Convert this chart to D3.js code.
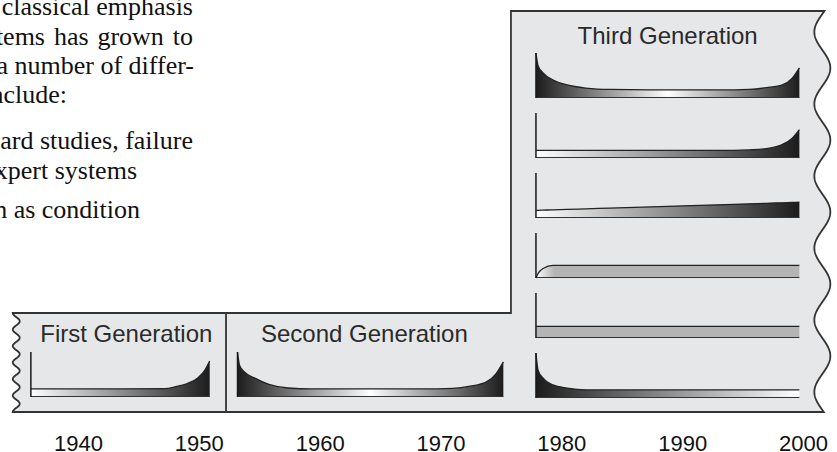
<!DOCTYPE html>
<html><head><meta charset="utf-8">
<script src="https://cdn.jsdelivr.net/npm/d3@7"></script>
<style>
html,body{margin:0;padding:0;background:#fff;}
svg{display:block;}
</style></head><body>
<svg id="chart" width="837" height="452"></svg>
<script>
// ---------- data ----------
const tickYears = [1940, 1950, 1960, 1970, 1980, 1990, 2000];
const genNames = ["First Generation", "Second Generation", "Third Generation"];
const genStart = [1934.6, 1952.25, 1975.83];
const genEnd = [1952.25, 1975.83, 2001.6];
const genLabelYear = [1944.0, 1963.7, 1988.8];
const curveStart = [1936.1, 1953.2, 1977.9];
const curveEnd = [1950.9, 1975.2, 1999.7];

// normalised age points along each failure-pattern curve
const ages = [0, 0.008, 0.027, 0.065, 0.118, 0.19, 0.28, 0.5, 0.75, 0.81, 0.875, 0.935, 0.973, 1];
// conditional probability of failure (relative) at each age point
const firstGenRates  = [0.18, 0.18, 0.18, 0.18, 0.18, 0.18, 0.18, 0.18, 0.185, 0.23, 0.30, 0.43, 0.60, 0.80];
const secondGenRates = [1.00, 0.70, 0.55, 0.42, 0.28, 0.20, 0.18, 0.18, 0.18, 0.19, 0.24, 0.33, 0.52, 0.78];
const thirdGenPatterns = ["A", "B", "C", "D", "E", "F"];
const rateA = [1.00, 0.72, 0.56, 0.40, 0.29, 0.22, 0.19, 0.18, 0.18, 0.19, 0.23, 0.29, 0.44, 0.67];
const rateB = [0.17, 0.17, 0.17, 0.17, 0.17, 0.17, 0.17, 0.17, 0.17, 0.18, 0.21, 0.30, 0.44, 0.63];
const rateC = [0.17, 0.171, 0.175, 0.182, 0.191, 0.204, 0.22, 0.26, 0.305, 0.316, 0.327, 0.338, 0.345, 0.35];
const rateD = [0.00, 0.10, 0.21, 0.28, 0.28, 0.28, 0.28, 0.28, 0.28, 0.28, 0.28, 0.28, 0.28, 0.28];
const rateE = [0.26, 0.26, 0.26, 0.26, 0.26, 0.26, 0.26, 0.26, 0.26, 0.26, 0.26, 0.26, 0.26, 0.26];
const rateF = [1.00, 0.62, 0.44, 0.29, 0.22, 0.18, 0.18, 0.18, 0.18, 0.18, 0.18, 0.18, 0.18, 0.18];
const thirdGenRates = [rateA, rateB, rateC, rateD, rateE, rateF];

const introLines = ["classical emphasis", "tems has grown to", "a number of differ-", "nclude:",
                    "ard studies, failure", "xpert systems", "n as condition"];

// ---------- layout ----------
const svg = d3.select("#chart");
const x = d3.scaleLinear().domain([1940, 2000]).range([78, 803]);
const topLow = 313, topHigh = 11, bottom = 412;
const panelH = 45;
const rowScale = d3.scaleBand().domain(thirdGenPatterns).range([38, 398]);

// gradients
const defs = svg.append("defs");
const dark = "#1c1c1c", bar = "#b4b4b4";
const gradStops = {
  bathtub: [[0, dark], [0.5, "#ffffff"], [1, dark]],
  wearout: [[0, "#ffffff"], [1, dark]],
  infant:  [[0, dark], [1, "#ffffff"]],
  rising:  [[0, "#ffffff"], [0.07, bar], [1, bar]],
  flat:    [[0, bar], [1, bar]]
};
Object.entries(gradStops).forEach(([id, stops]) => {
  const g = defs.append("linearGradient").attr("id", "g-" + id)
    .attr("x1", 0).attr("x2", 1).attr("y1", 0).attr("y2", 0);
  stops.forEach(s => g.append("stop").attr("offset", s[0]).attr("stop-color", s[1]));
});
const thirdGrad = ["bathtub", "wearout", "wearout", "rising", "flat", "infant"];

// ---------- intro text (page text behind the figure) ----------
const introEnds = [193, 193, 194, 67, 193, 137, 140];
const introBase = [15, 44.5, 74, 103, 149, 179, 218];
const introWordSpace = [0, 2.4, 0, 0, 0, 0, 0];
svg.append("g").selectAll("text").data(introLines).join("text")
  .attr("x", (d, i) => introEnds[i]).attr("y", (d, i) => introBase[i])
  .attr("text-anchor", "end")
  .style("font-family", "'Liberation Serif','Times New Roman',serif")
  .style("font-size", "26px").style("fill", "#111")
  .style("word-spacing", (d, i) => introWordSpace[i] + "px")
  .text(d => d);

// ---------- box outline ----------
const xL = x(genStart[0]), xR = x(genEnd[2]);
const leftWave = y => xL + 3.5 - 3.5 * Math.cos(2 * Math.PI * (y - topLow) / 16.5);
const rightWave = y => xR - 8 * Math.cos(2 * Math.PI * (y - 32) / 72);
const pts = [];
pts.push([leftWave(topLow), topLow]);
pts.push([x(genStart[2]), topLow]);
pts.push([x(genStart[2]), topHigh]);
for (let y = topHigh; y <= bottom; y += 1) pts.push([rightWave(y), y]);
for (let y = bottom; y >= topLow; y -= 1) pts.push([leftWave(y), y]);
svg.append("path").attr("d", d3.line()(pts) + "Z")
  .attr("fill", "#e6e7e8").attr("stroke", "#333").attr("stroke-width", 1.8)
  .attr("stroke-linejoin", "miter");
svg.append("line")
  .attr("x1", x(genStart[1])).attr("x2", x(genStart[1]))
  .attr("y1", topLow).attr("y2", bottom)
  .attr("stroke", "#333").attr("stroke-width", 1.8);

// ---------- generation titles ----------
svg.append("g").selectAll("text").data(genNames).join("text")
  .attr("x", (d, i) => x(genLabelYear[i]))
  .attr("y", (d, i) => i < 2 ? 342 : 44)
  .attr("text-anchor", "middle")
  .style("font-family", "'Liberation Sans',Arial,Helvetica,sans-serif")
  .style("font-size", "24px").style("fill", "#2a2a2a")
  .text(d => d);

// ---------- failure pattern panels ----------
function drawPanel(y0, yrStart, yrEnd, rates, grad) {
  const xs = d3.scaleLinear().domain([0, 1]).range([x(yrStart), x(yrEnd)]);
  const ys = d3.scaleLinear().domain([0, 1]).range([y0, y0 - panelH]);
  const data = ages.map((a, i) => ({a, r: rates[i]}));
  const g = svg.append("g");
  g.append("path").datum(data)
    .attr("d", d3.area().x(d => xs(d.a)).y0(y0).y1(d => ys(d.r)).curve(d3.curveMonotoneX))
    .attr("fill", "url(#g-" + grad + ")");
  g.append("path").datum(data)
    .attr("d", d3.line().x(d => xs(d.a)).y(d => ys(d.r)).curve(d3.curveMonotoneX))
    .attr("fill", "none").attr("stroke", "#222").attr("stroke-width", 1.3);
  g.append("line").attr("x1", xs(0)).attr("x2", xs(1)).attr("y1", y0 - 0.5).attr("y2", y0 - 0.5)
    .attr("stroke", "#333").attr("stroke-width", 1);
  g.append("line").attr("x1", xs(0)).attr("x2", xs(0)).attr("y1", ys(1)).attr("y2", y0)
    .attr("stroke", "#1a1a1a").attr("stroke-width", 1.5);
}
const lowBase = rowScale("F") + rowScale.bandwidth() - 1;
drawPanel(lowBase, curveStart[0], curveEnd[0], firstGenRates, "wearout");
drawPanel(lowBase, curveStart[1], curveEnd[1], secondGenRates, "bathtub");
thirdGenPatterns.forEach((p, i) => {
  drawPanel(rowScale(p) + rowScale.bandwidth(), curveStart[2], curveEnd[2], thirdGenRates[i], thirdGrad[i]);
});

// ---------- year axis ----------
const axis = svg.append("g").attr("transform", "translate(0,427)")
  .call(d3.axisBottom(x).tickValues(tickYears).tickFormat(d3.format("d")).tickSize(0).tickPadding(8));
axis.select(".domain").remove();
axis.selectAll("text")
  .style("font-family", "'Liberation Sans',Arial,Helvetica,sans-serif")
  .style("font-size", "22px").style("fill", "#111");
</script>
</body></html>
